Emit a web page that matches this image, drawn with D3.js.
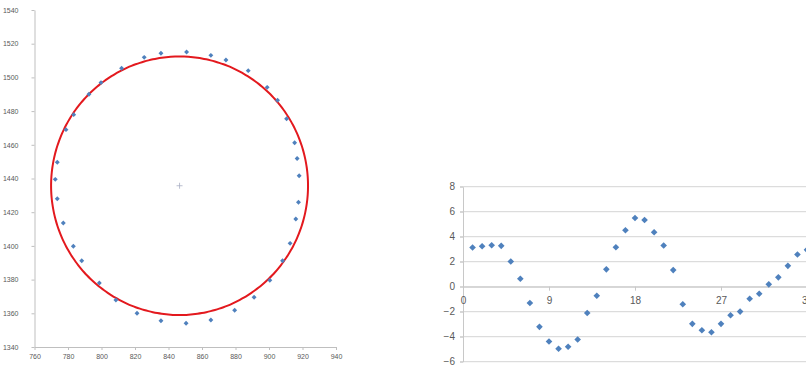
<!DOCTYPE html>
<html><head><meta charset="utf-8">
<script src="https://cdn.jsdelivr.net/npm/d3@7"></script>
<style>body{margin:0;background:#fff}svg{display:block}text{font-family:"Liberation Sans",Arial,sans-serif;fill:#595959}</style>
</head><body>
<script>
// Left chart: measured points
const ptsX = [850.8,865.3,874.3,887.6,898.9,905.1,910.5,915.3,916.8,918.0,917.6,916.0,912.6,908.1,900.5,891.1,879.5,865.3,850.5,835.5,821.2,808.6,798.7,788.2,783.2,777.2,773.6,772.4,773.6,778.8,783.4,792.5,799.7,812.0,825.5,835.5];
const ptsY = [1515.1,1513.1,1510.3,1504.0,1494.1,1486.4,1475.5,1461.2,1451.9,1441.6,1425.9,1416.0,1401.5,1391.2,1379.6,1369.5,1361.8,1356.0,1354.1,1355.6,1360.0,1367.9,1378.0,1391.2,1399.8,1413.6,1428.0,1439.5,1449.6,1469.0,1477.9,1490.0,1496.9,1505.4,1511.9,1514.3];
const circleCenter = [846.6, 1435.7];
const circleRadius = 76.7;
const leftXTicks = [760,780,800,820,840,860,880,900,920,940];
const leftYTicks = [1340,1360,1380,1400,1420,1440,1460,1480,1500,1520,1540];

// Right chart: series
const seriesX = d3.range(1, 37);
const seriesY = [3.14,3.24,3.32,3.27,2.02,0.64,-1.30,-3.21,-4.38,-4.96,-4.80,-4.22,-2.10,-0.72,1.39,3.16,4.52,5.50,5.34,4.36,3.30,1.33,-1.40,-2.97,-3.48,-3.64,-2.97,-2.28,-1.99,-0.96,-0.56,0.19,0.75,1.67,2.58,2.95];
const rightXTicks = [0,9,18,27,36];
const rightYTicks = [-6,-4,-2,0,2,4,6,8];

const W = 806, H = 367;
const svg = d3.select("body").append("svg").attr("width", W).attr("height", H);

const blue = "#4f81bd";
// square symbol rotated 45deg gives a regular diamond
const sq = d3.symbol().type(d3.symbolSquare);

// ---------- Left chart ----------
const lx = d3.scaleLinear().domain([760, 940]).range([34.5, 336]);
const ly = d3.scaleLinear().domain([1340, 1540]).range([347, 10]);
const L = svg.append("g");

const lxAxis = L.append("g").attr("transform", `translate(0,${ly(1340)})`)
  .call(d3.axisBottom(lx).tickValues(leftXTicks).tickFormat(d3.format("d")).tickSize(3).tickSizeOuter(0));
lxAxis.select(".domain").attr("stroke", "#bfbfbf");
lxAxis.selectAll(".tick line").attr("stroke", "#bfbfbf");
lxAxis.selectAll("text").attr("font-size", 7).attr("dy", "0.9em").attr("fill", "#595959");

const lyAxis = L.append("g").attr("transform", `translate(${lx(760)},0)`)
  .call(d3.axisLeft(ly).tickValues(leftYTicks).tickFormat(d3.format("d")).tickSize(3).tickSizeOuter(0).tickPadding(13));
lyAxis.select(".domain").attr("stroke", "#bfbfbf");
lyAxis.selectAll(".tick line").attr("stroke", "#bfbfbf");
lyAxis.selectAll("text").attr("font-size", 7).attr("fill", "#595959");

// circle fit
const angles = d3.range(0, 361, 2);
const circLine = d3.line()
  .x(a => lx(circleCenter[0] + circleRadius * Math.cos(a * Math.PI / 180)))
  .y(a => ly(circleCenter[1] + circleRadius * Math.sin(a * Math.PI / 180)))
  .curve(d3.curveCardinal);
L.append("path").attr("d", circLine(angles)).attr("fill", "none")
  .attr("stroke", "#e3191e").attr("stroke-width", 2);

// center marker (plus)
const cx = lx(circleCenter[0]), cy = ly(circleCenter[1]);
L.append("path").attr("d", `M${cx - 3},${cy}H${cx + 3}M${cx},${cy - 3}V${cy + 3}`)
  .attr("fill", "none").attr("stroke", "#a9aec4").attr("stroke-width", 0.8);

L.selectAll("path.lp").data(ptsX).join("path").attr("class", "lp")
  .attr("d", sq.size(12)())
  .attr("transform", (d, i) => `translate(${lx(d)},${ly(ptsY[i])}) rotate(45)`)
  .attr("fill", blue);

// ---------- Right chart ----------
const rx = d3.scaleLinear().domain([0, 36]).range([463, 807]);
const ry = d3.scaleLinear().domain([-6, 8]).range([361.7, 186.7]);
const R = svg.append("g");

R.selectAll("line.grid").data(rightYTicks).join("line").attr("class", "grid")
  .attr("x1", rx(0) - 3).attr("x2", W)
  .attr("y1", d => ry(d)).attr("y2", d => ry(d))
  .attr("stroke", "#d4d4d4").attr("stroke-width", 1);

const ryAxis = R.append("g").attr("transform", `translate(${rx(0)},0)`)
  .call(d3.axisLeft(ry).tickValues(rightYTicks).tickSize(3).tickSizeOuter(0).tickPadding(5));
ryAxis.select(".domain").attr("stroke", "#c8c8c8");
ryAxis.selectAll(".tick line").attr("stroke", "#c8c8c8");
ryAxis.selectAll("text").attr("font-size", 10).attr("fill", "#595959");

const rxAxis = R.append("g").attr("transform", `translate(0,${ry(0)})`)
  .call(d3.axisBottom(rx).tickValues(rightXTicks).tickSize(4).tickSizeOuter(0).tickPadding(6));
rxAxis.select(".domain").attr("stroke", "#c8c8c8");
rxAxis.selectAll(".tick line").attr("stroke", "#c8c8c8");
rxAxis.selectAll("text").attr("font-size", 10).attr("fill", "#595959");

R.selectAll("path.rp").data(seriesX).join("path").attr("class", "rp")
  .attr("d", sq.size(22)())
  .attr("transform", (d, i) => `translate(${rx(d)},${ry(seriesY[i])}) rotate(45)`)
  .attr("fill", blue);
</script>
</body></html>
